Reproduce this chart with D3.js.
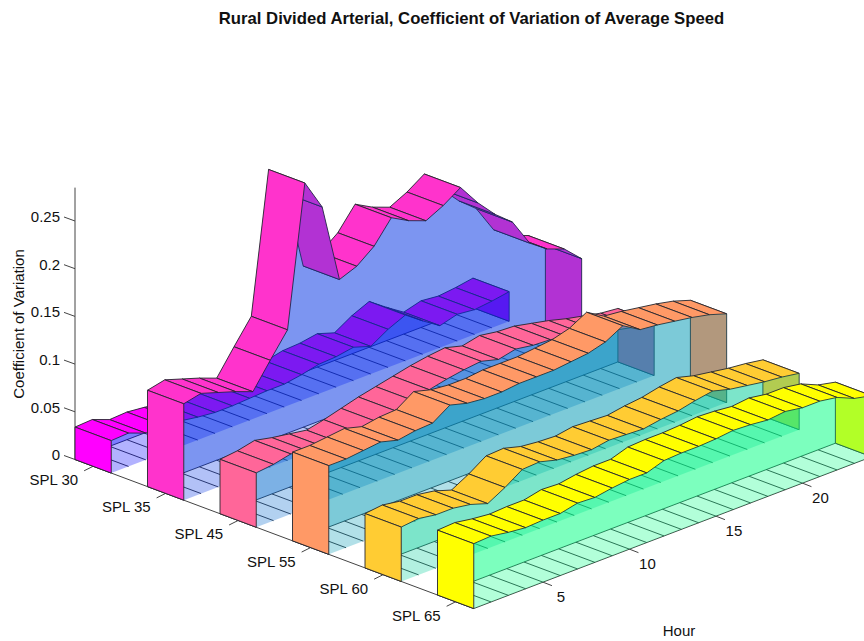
<!DOCTYPE html>
<html><head><meta charset="utf-8">
<script src="https://cdn.jsdelivr.net/npm/d3@7/dist/d3.min.js"></script>
<style>html,body{margin:0;background:#fff}svg{display:block}text{font-family:"Liberation Sans",Arial,sans-serif;fill:#111}</style>
</head><body><svg id="c" width="864" height="641"></svg>
<script>
const titleText = "Rural Divided Arterial, Coefficient of Variation of Average Speed";
const zLabel = "Coefficient of Variation";
const hourLabel = "Hour";
const categories = ["SPL 30","SPL 35","SPL 45","SPL 55","SPL 60","SPL 65"];
const hours = d3.range(1,25);
const hourTicks = [5,10,15,20];
const zTicks = [0,0.05,0.1,0.15,0.2,0.25];
const zTickLabels = ["0","0.05","0.1","0.15","0.2","0.25"];
const spl30 = [.034,.035,.028,.029,.027,.024,.022,.022,.023,.024,.024,.027,.031,.032,.035,.029,.040,.048,.035,.023,.028,.026,.028,.031];
const spl35 = [.101,.105,.099,.093,.086,.112,.137,.284,.252,.169,.176,.190,.213,.203,.196,.205,.217,.194,.175,.160,.131,.118,.111,.094];
const spl45 = [.057,.059,.063,.059,.056,.053,.057,.062,.067,.071,.075,.079,.082,.084,.079,.083,.080,.079,.075,.071,.066,.062,.058,.056];
const spl55 = [.093,.093,.095,.097,.092,.095,.096,.108,.103,.101,.101,.103,.103,.103,.105,.107,.112,.122,.111,.109,.106,.103,.099,.093];
const spl60 = [.057,.059,.056,.056,.053,.047,.057,.069,.070,.065,.063,.062,.065,.064,.063,.066,.068,.072,.075,.070,.067,.064,.062,.059];
const spl65 = [.068,.069,.066,.064,.065,.065,.069,.068,.071,.073,.073,.079,.080,.080,.081,.083,.082,.080,.082,.079,.079,.076,.068,.064];
const seriesList = [spl30,spl35,spl45,spl55,spl60,spl65];

// oblique 3-D projection, one linear scale per screen component
const ox = 75, oy = 459.5;
const uX = d3.scaleLinear().domain([0,1]).range([0,72.5]);
const uY = d3.scaleLinear().domain([0,1]).range([0,27.1]);
const hX = d3.scaleLinear().domain([1,24]).range([0,397.9]);
const hY = d3.scaleLinear().domain([1,24]).range([0,-151.8]);
const zY = d3.scaleLinear().domain([0,0.25]).range([0,-238.5]);
const P = (u,h,z) => [ox+uX(u)+hX(h), oy+uY(u)+hY(h)+zY(z)];
const spring = d3.scaleLinear().domain([0,1]).range(["#ff00ff","#ffff00"]);
const winter = d3.scaleLinear().domain([0,1]).range(["#0000ff","#00ff80"]);
const ribbonWidth = 0.5, alpha = 0.3, edge = "#26262e", edgeW = 0.9;
const path = d3.line();
const svg = d3.select("#c");

// axes
const axisG = svg.append("g").attr("stroke","#444").attr("stroke-width",1).attr("fill","none");
const seg = (a,b) => axisG.append("path").attr("d",path([a,b]));
seg(P(0,1,0),P(0,1,0.285));
seg(P(0,1,0),P(5.5,1,0));
seg(P(5.5,1,0),P(5.5,24,0));
zTicks.forEach(t=>{const p=P(0,1,t); seg(p,[p[0]-11,p[1]-4]);});
categories.forEach((c,i)=>{const p=P(i+ribbonWidth/2,1,0); seg(p,[p[0]-9,p[1]+4.5]);});
hourTicks.forEach(h=>{const p=P(5.5,h,0); seg(p,[p[0]+9,p[1]+3.5]);});

// ribbons, back to front
seriesList.forEach((vals,i)=>{
  const t=i/5, L=i, R=i+ribbonWidth, top=spring(t), wall=winter(t);
  const g=svg.append("g").attr("class","ribbon").attr("stroke-width",edgeW);
  // floor wires
  g.append("g").selectAll("path").data(hours).join("path")
    .attr("d",h=>path([P(L,h,0),P(R,h,0)])).attr("stroke",edge).attr("fill","none");
  g.append("path").attr("d",path([P(L,1,0),P(L,24,0)])).attr("stroke",edge).attr("fill","none");
  // left wall
  const wallPts = u => hours.map((h,k)=>P(u,h,vals[k])).concat([P(u,24,0),P(u,1,0)]);
  g.append("path").attr("d",path(wallPts(L))+"Z").attr("fill",wall).attr("fill-opacity",alpha);
  // end face
  g.append("path").attr("d",path([P(L,24,0),P(L,24,vals[23]),P(R,24,vals[23]),P(R,24,0)])+"Z")
    .attr("fill",top).attr("stroke",edge);
  // top strip, far to near
  const seq=d3.range(22,-1,-1);
  g.append("g").selectAll("path").data(seq).join("path")
    .attr("d",k=>path([P(L,hours[k],vals[k]),P(R,hours[k],vals[k]),P(R,hours[k+1],vals[k+1]),P(L,hours[k+1],vals[k+1])])+"Z")
    .attr("fill",top).attr("stroke",edge).attr("stroke-linejoin","round");
  // right wall
  g.append("path").attr("d",path(wallPts(R))+"Z").attr("fill",wall).attr("fill-opacity",alpha);
  // front face
  g.append("path").attr("d",path([P(L,1,0),P(L,1,vals[0]),P(R,1,vals[0]),P(R,1,0)])+"Z")
    .attr("fill",top).attr("stroke",edge);
});

// text
svg.append("text").attr("x",471.5).attr("y",24).attr("text-anchor","middle")
  .attr("font-weight","bold").attr("font-size",16.7).text(titleText);
svg.append("g").selectAll("text").data(zTicks).join("text")
  .attr("x",60).attr("y",t=>P(0,1,t)[1]+0.8).attr("text-anchor","end").attr("font-size",15).text((t,k)=>zTickLabels[k]);
svg.append("g").selectAll("text").data(categories).join("text")
  .attr("x",(c,i)=>P(i+ribbonWidth/2,1,0)[0]-15).attr("y",(c,i)=>P(i+ribbonWidth/2,1,0)[1]+19)
  .attr("text-anchor","end").attr("font-size",15).text(c=>c);
svg.append("g").selectAll("text").data(hourTicks).join("text")
  .attr("x",h=>P(5.5,h,0)[0]+18).attr("y",h=>P(5.5,h,0)[1]+19.5)
  .attr("text-anchor","middle").attr("font-size",15).text(h=>h);
svg.append("text").attr("x",679).attr("y",636).attr("text-anchor","middle").attr("font-size",15).text(hourLabel);
svg.append("text").attr("transform","translate(24,324) rotate(-90)").attr("text-anchor","middle").attr("font-size",15).text(zLabel);
</script></body></html>
